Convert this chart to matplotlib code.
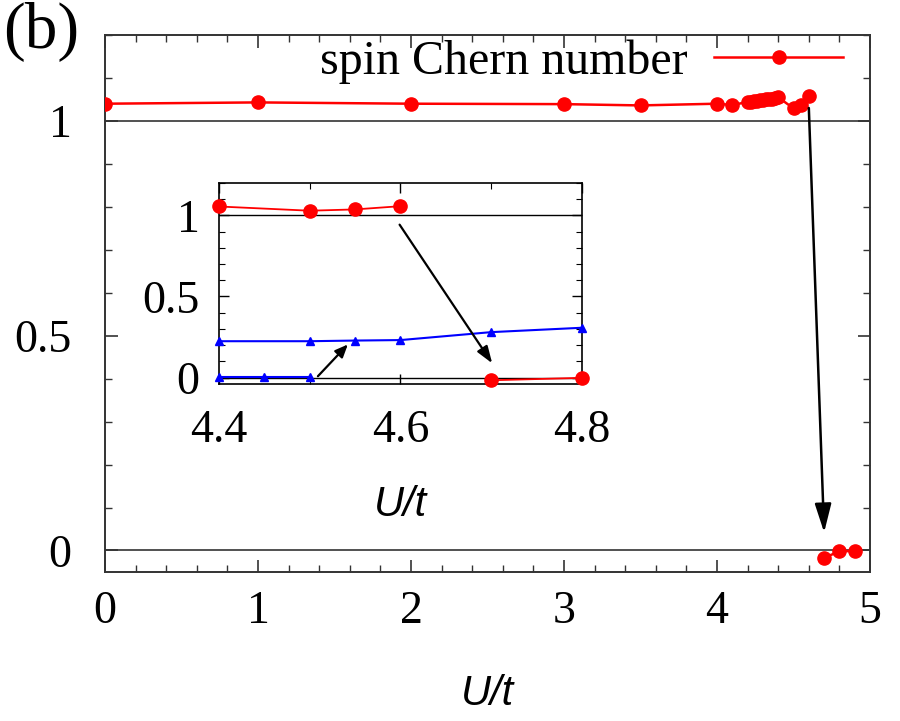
import numpy as np
import matplotlib
matplotlib.use('Agg')
import matplotlib.pyplot as plt
from matplotlib.ticker import MultipleLocator

plt.rcParams['font.family'] = 'Liberation Serif'

# spin Chern number vs U/t
U = np.array([0, 1, 2, 3, 3.5, 4.0, 4.1, 4.2, 4.22, 4.24, 4.26, 4.28, 4.3, 4.32,
              4.34, 4.36, 4.38, 4.4, 4.5, 4.55, 4.6, 4.7, 4.8, 4.9])
chern = np.array([1.040, 1.043, 1.040, 1.039, 1.036, 1.040, 1.037, 1.044, 1.045,
                  1.046, 1.047, 1.048, 1.049, 1.050, 1.051, 1.052, 1.054, 1.055,
                  1.029, 1.037, 1.057, -0.017, -0.002, -0.001])

# inset blue curves
U_low = np.array([4.4, 4.45, 4.5])
low = np.array([0.003, 0.003, 0.003])
U_up = np.array([4.4, 4.5, 4.55, 4.6, 4.7, 4.8])
up = np.array([0.224, 0.224, 0.228, 0.231, 0.280, 0.307])

fs = 33
fig = plt.figure(figsize=(9, 7.21), dpi=100)
ax = fig.add_axes([0.1167, 0.2067, 0.85, 0.7448])

hi = U <= 4.6   # topological side
lo = U > 4.6    # after the jump

ax.axhline(1, color='#333333', lw=1.2, zorder=1)
ax.axhline(0, color='#333333', lw=1.2, zorder=1)
ax.plot(U[hi], chern[hi], '-o', color='red', lw=1.8, ms=9.5, label='spin Chern number', zorder=3)
ax.plot(U[lo], chern[lo], '-o', color='red', lw=1.8, ms=9.5, zorder=3)
ax.set_xlim(0, 5)
ax.set_ylim(-0.05, 1.2)
ax.set_xticks([0, 1, 2, 3, 4, 5])
ax.set_yticks([0, 0.5, 1])
ax.set_yticklabels(['0', '0.5', '1'])
ax.xaxis.set_minor_locator(MultipleLocator(0.2))
ax.yaxis.set_minor_locator(MultipleLocator(0.1))
ax.tick_params(which='both', direction='in', top=True, right=True, labelsize=fs, color='#333333')
ax.tick_params(which='major', length=9, width=1.2)
ax.tick_params(which='minor', length=5, width=1.0)
ax.tick_params(axis='x', pad=13)
ax.tick_params(axis='y', pad=24)
for s in ax.spines.values():
    s.set_linewidth(1.4)
    s.set_color('#333333')
ax.set_xlabel('U/t', fontsize=30, family='Liberation Sans', style='italic', labelpad=30)

ax.legend(loc='center right', bbox_to_anchor=(0.965, 0.95), frameon=False, fontsize=34.5,
          markerfirst=False, handlelength=2.7, handletextpad=0.55, borderpad=0, borderaxespad=0)

ax.annotate('', xy=(4.7, 0.042), xytext=(4.6, 1.03),
            arrowprops=dict(arrowstyle='-|>,head_length=1.25,head_width=0.36', mutation_scale=14,
                            color='black', lw=1.8, shrinkA=0, shrinkB=0))

fig.text(0.004, 0.997, '(b)', fontsize=47, va='top', ha='left')

# inset
ins = fig.add_axes([0.2433, 0.4674, 0.4034, 0.2788])
ins.axhline(1, color='black', lw=1.0, zorder=1)
ins.axhline(0, color='black', lw=1.0, zorder=1)
m1 = (U >= 4.4) & (U <= 4.6)
m2 = (U > 4.6) & (U <= 4.8)
ins.plot(U[m1], chern[m1], '-o', color='red', lw=1.3, ms=9.5, clip_on=False, zorder=3)
ins.plot(U[m2], chern[m2], '-o', color='red', lw=1.3, ms=9.5, clip_on=False, zorder=3)
ins.plot(U_low, low, '-^', color='blue', lw=1.5, ms=6, clip_on=False, zorder=3)
ins.plot(U_up, up, '-^', color='blue', lw=1.5, ms=6, clip_on=False, zorder=3)
ins.set_xlim(4.4, 4.8)
ins.set_ylim(-0.04, 1.2)
ins.set_xticks([4.4, 4.6, 4.8])
ins.set_yticks([0, 0.5, 1])
ins.set_yticklabels(['0', '0.5', '1'])
ins.xaxis.set_minor_locator(MultipleLocator(0.1))
ins.yaxis.set_minor_locator(MultipleLocator(0.1))
ins.tick_params(which='both', direction='in', top=True, right=True, labelsize=fs)
ins.tick_params(which='major', length=7, width=1.0)
ins.tick_params(which='minor', length=4, width=0.8)
ins.tick_params(axis='x', pad=18)
ins.tick_params(axis='y', pad=14)
for s in ins.spines.values():
    s.set_linewidth(1.2)
ins.set_xlabel('U/t', fontsize=30, family='Liberation Sans', style='italic', labelpad=24)

ins.annotate('', xy=(4.701, 0.088), xytext=(4.599, 0.943),
             arrowprops=dict(arrowstyle='-|>,head_length=0.85,head_width=0.3', mutation_scale=12,
                             color='black', lw=1.6, shrinkA=0, shrinkB=0))
ins.annotate('', xy=(4.542, 0.204), xytext=(4.509, 0.008),
             arrowprops=dict(arrowstyle='-|>,head_length=0.7,head_width=0.3', mutation_scale=11,
                             color='black', lw=1.6, shrinkA=0, shrinkB=0))

fig.savefig('out.png', dpi=100)
